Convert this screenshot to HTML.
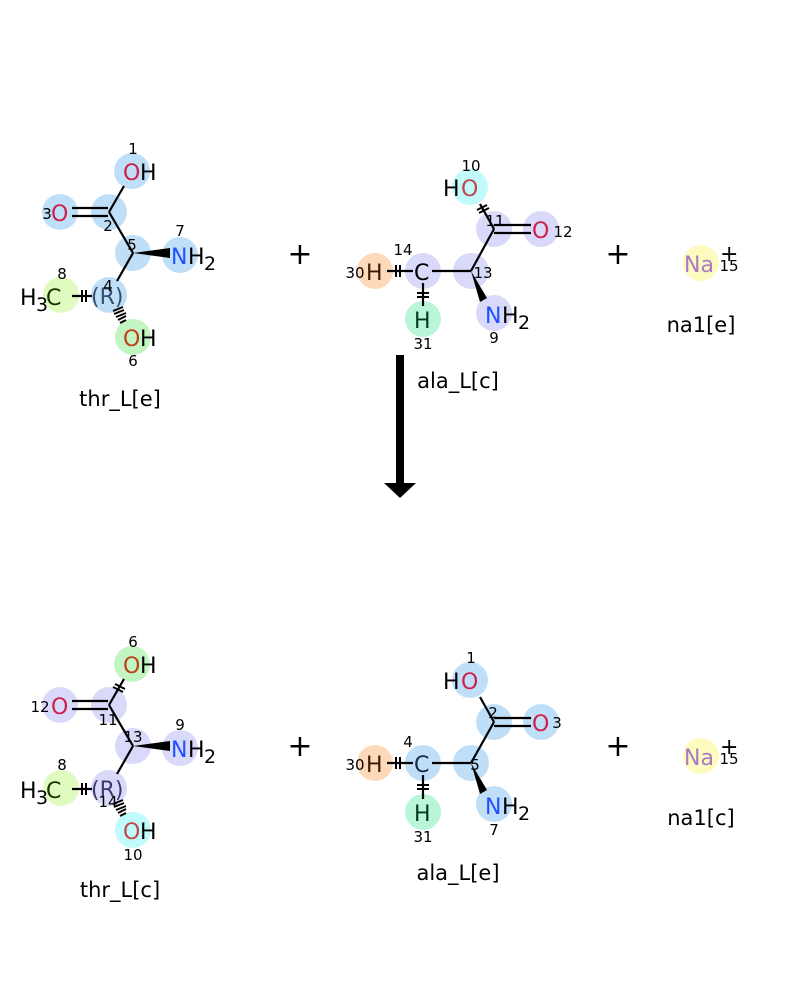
<!DOCTYPE html>
<html><head><meta charset="utf-8"><style>
html,body{margin:0;padding:0;background:#fff;}
svg{display:block;font-family:"DejaVu Sans","Liberation Sans",sans-serif;}
.a{font-size:22px;}
.s{font-size:19px;}
.i{font-size:15px;fill:#000;text-anchor:middle;}
.l{font-size:21px;fill:#000;text-anchor:middle;}
.b{stroke:#000;stroke-width:2.2;fill:none;}
</style></head><body>
<svg width="800" height="1000" viewBox="0 0 800 1000" xmlns="http://www.w3.org/2000/svg">
<rect width="800" height="1000" fill="#fff"/>

<!-- thr_L[e] top -->
<g>
<circle cx="132" cy="171" r="18" fill="#bfdff9"/>
<circle cx="60" cy="212" r="18" fill="#bfdff9"/>
<circle cx="109" cy="212" r="18" fill="#bfdff9"/>
<circle cx="133" cy="253" r="18" fill="#bfdff9"/>
<circle cx="180" cy="255" r="18" fill="#bfdff9"/>
<circle cx="61" cy="295" r="18" fill="#e0fbc0"/>
<circle cx="109" cy="295" r="18" fill="#bfdff9"/>
<circle cx="133" cy="337" r="18" fill="#c2f5c2"/>
<line class="b" x1="109" y1="212" x2="124" y2="186"/>
<line class="b" x1="72" y1="208" x2="108" y2="208"/>
<line class="b" x1="72" y1="216" x2="108" y2="216"/>
<line class="b" x1="109" y1="212" x2="133" y2="253"/>
<polygon points="133,253 170,248 170,258" fill="#000"/>
<line class="b" x1="133" y1="253" x2="117" y2="281"/>
<line class="b" x1="72" y1="296" x2="92" y2="296"/>
<g stroke="#000" stroke-width="2"><line x1="82" y1="290" x2="82" y2="302"/><line x1="86" y1="290" x2="86" y2="302"/>
<line x1="113" y1="311" x2="123" y2="307"/><line x1="114" y1="314" x2="124" y2="310"/><line x1="116" y1="317" x2="126" y2="313"/><line x1="118" y1="320" x2="126" y2="316"/><line x1="120" y1="323" x2="126" y2="320"/></g>
<text class="a" x="123" y="180" fill="#d0204a">O</text><text class="a" x="140" y="180">H</text>
<text class="a" x="51" y="221" fill="#d0204a">O</text>
<text class="a" x="171" y="264" fill="#2050ff">N</text><text class="a" x="188" y="264">H</text><text class="s" x="204" y="270">2</text>
<text class="a" x="20" y="305">H</text><text class="s" x="36" y="311">3</text><text class="a" x="46" y="305" fill="#1a3300">C</text>
<text class="a" x="91" y="304" fill="#33506e">(R)</text>
<text class="a" x="123" y="346" fill="#c0401b">O</text><text class="a" x="140" y="346">H</text>
<text class="i" x="133" y="154">1</text><text class="i" x="47" y="219">3</text><text class="i" x="108" y="231">2</text>
<text class="i" x="132" y="250">5</text><text class="i" x="180" y="236">7</text><text class="i" x="62" y="279">8</text>
<text class="i" x="108" y="291">4</text><text class="i" x="133" y="366">6</text>
<text class="l" x="120" y="406">thr_L[e]</text>
</g>

<!-- ala_L[c] top -->
<g>
<circle cx="470" cy="187" r="18" fill="#c0fafa"/>
<circle cx="494" cy="229" r="18" fill="#d9d9f9"/>
<circle cx="541" cy="229" r="18" fill="#d9d9f9"/>
<circle cx="471" cy="271" r="18" fill="#d9d9f9"/>
<circle cx="423" cy="271" r="18" fill="#d9d9f9"/>
<circle cx="375" cy="271" r="18" fill="#fdd9b9"/>
<circle cx="423" cy="319" r="18" fill="#b9f6d9"/>
<circle cx="494" cy="313" r="18" fill="#d9d9f9"/>
<line class="b" x1="494" y1="229" x2="480" y2="204"/>
<line class="b" x1="494" y1="225" x2="531" y2="225"/>
<line class="b" x1="494" y1="233" x2="531" y2="233"/>
<line class="b" x1="494" y1="229" x2="471" y2="271"/>
<line class="b" x1="471" y1="271" x2="432" y2="271"/>
<line class="b" x1="413" y1="271" x2="387" y2="271"/>
<line class="b" x1="423" y1="283" x2="423" y2="306"/>
<polygon points="471,271 487,298 480,302" fill="#000"/>
<g stroke="#000" stroke-width="2"><line x1="396" y1="265" x2="396" y2="277"/><line x1="400" y1="265" x2="400" y2="277"/>
<line x1="417" y1="293" x2="429" y2="293"/><line x1="417" y1="297" x2="429" y2="297"/>
<line x1="477" y1="210" x2="487" y2="205"/><line x1="479" y1="213" x2="489" y2="208"/></g>
<text class="a" x="443" y="196">H</text><text class="a" x="461" y="196" fill="#c04848">O</text>
<text class="a" x="532" y="238" fill="#d0204a">O</text>
<text class="a" x="414" y="280" fill="#000">C</text>
<text class="a" x="366" y="280" fill="#3a1a00">H</text>
<text class="a" x="414" y="328" fill="#003a1a">H</text>
<text class="a" x="485" y="323" fill="#2050ff">N</text><text class="a" x="502" y="323">H</text><text class="s" x="518" y="329">2</text>
<text class="i" x="471" y="171">10</text><text class="i" x="495" y="226">11</text><text class="i" x="563" y="237">12</text>
<text class="i" x="483" y="278">13</text><text class="i" x="403" y="255">14</text><text class="i" x="355" y="278">30</text>
<text class="i" x="423" y="349">31</text><text class="i" x="494" y="343">9</text>
<text class="l" x="458" y="388">ala_L[c]</text>
</g>

<!-- Na top -->
<circle cx="701" cy="263" r="18" fill="#fdfbc0"/>
<text class="a" x="684" y="272" fill="#ab7ac0">Na</text>
<text class="a" x="720" y="261">+</text>
<text class="i" x="729" y="271">15</text>
<text class="l" x="701" y="332">na1[e]</text>

<text x="300" y="264" font-size="30" text-anchor="middle">+</text>
<text x="618" y="264" font-size="30" text-anchor="middle">+</text>

<!-- arrow -->
<rect x="396" y="355" width="8" height="130" fill="#000"/>
<polygon points="384,483 416,483 400,498" fill="#000"/>

<!-- thr_L[c] bottom -->
<g transform="translate(0,493)">
<circle cx="132" cy="171" r="18" fill="#c2f5c2"/>
<circle cx="60" cy="212" r="18" fill="#d9d9f9"/>
<circle cx="109" cy="212" r="18" fill="#d9d9f9"/>
<circle cx="133" cy="253" r="18" fill="#d9d9f9"/>
<circle cx="180" cy="255" r="18" fill="#d9d9f9"/>
<circle cx="61" cy="295" r="18" fill="#e0fbc0"/>
<circle cx="109" cy="295" r="18" fill="#d9d9f9"/>
<circle cx="133" cy="337" r="18" fill="#c0fafa"/>
<line class="b" x1="109" y1="212" x2="124" y2="186"/>
<g stroke="#000" stroke-width="2"><line x1="113" y1="194" x2="123" y2="199"/><line x1="115" y1="191" x2="125" y2="196"/></g>
<line class="b" x1="72" y1="208" x2="108" y2="208"/>
<line class="b" x1="72" y1="216" x2="108" y2="216"/>
<line class="b" x1="109" y1="212" x2="133" y2="253"/>
<polygon points="133,253 170,248 170,258" fill="#000"/>
<line class="b" x1="133" y1="253" x2="117" y2="281"/>
<line class="b" x1="72" y1="296" x2="92" y2="296"/>
<g stroke="#000" stroke-width="2"><line x1="82" y1="290" x2="82" y2="302"/><line x1="86" y1="290" x2="86" y2="302"/>
<line x1="113" y1="311" x2="123" y2="307"/><line x1="114" y1="314" x2="124" y2="310"/><line x1="116" y1="317" x2="126" y2="313"/><line x1="118" y1="320" x2="126" y2="316"/><line x1="120" y1="323" x2="126" y2="320"/></g>
<text class="a" x="123" y="180" fill="#c0401b">O</text><text class="a" x="140" y="180">H</text>
<text class="a" x="51" y="221" fill="#d0204a">O</text>
<text class="a" x="171" y="264" fill="#2050ff">N</text><text class="a" x="188" y="264">H</text><text class="s" x="204" y="270">2</text>
<text class="a" x="20" y="305">H</text><text class="s" x="36" y="311">3</text><text class="a" x="46" y="305" fill="#1a3300">C</text>
<text class="a" x="91" y="304" fill="#3a3a6e">(R)</text>
<text class="a" x="123" y="346" fill="#c04848">O</text><text class="a" x="140" y="346">H</text>
<text class="i" x="133" y="154">6</text><text class="i" x="40" y="219">12</text><text class="i" x="108" y="232">11</text>
<text class="i" x="133" y="249">13</text><text class="i" x="180" y="237">9</text><text class="i" x="62" y="277">8</text>
<text class="i" x="108" y="314">14</text><text class="i" x="133" y="367">10</text>
<text class="l" x="120" y="404">thr_L[c]</text>
</g>

<!-- ala_L[e] bottom -->
<g transform="translate(0,492)">
<circle cx="470" cy="188" r="18" fill="#bfdff9"/>
<circle cx="494" cy="230" r="18" fill="#bfdff9"/>
<circle cx="541" cy="230" r="18" fill="#bfdff9"/>
<circle cx="471" cy="271" r="18" fill="#bfdff9"/>
<circle cx="423" cy="271" r="18" fill="#bfdff9"/>
<circle cx="375" cy="271" r="18" fill="#fdd9b9"/>
<circle cx="423" cy="320" r="18" fill="#b9f6d9"/>
<circle cx="494" cy="312" r="18" fill="#bfdff9"/>
<line class="b" x1="494" y1="230" x2="480" y2="205"/>
<line class="b" x1="494" y1="226" x2="531" y2="226"/>
<line class="b" x1="494" y1="234" x2="531" y2="234"/>
<line class="b" x1="494" y1="230" x2="471" y2="271"/>
<line class="b" x1="471" y1="271" x2="432" y2="271"/>
<line class="b" x1="413" y1="271" x2="387" y2="271"/>
<line class="b" x1="423" y1="283" x2="423" y2="307"/>
<polygon points="471,271 487,298 480,302" fill="#000"/>
<g stroke="#000" stroke-width="2"><line x1="396" y1="265" x2="396" y2="277"/><line x1="400" y1="265" x2="400" y2="277"/>
<line x1="417" y1="293" x2="429" y2="293"/><line x1="417" y1="297" x2="429" y2="297"/></g>
<text class="a" x="443" y="197">H</text><text class="a" x="461" y="197" fill="#d0204a">O</text>
<text class="a" x="532" y="239" fill="#d0204a">O</text>
<text class="a" x="414" y="280" fill="#1a2a4a">C</text>
<text class="a" x="366" y="280" fill="#3a1a00">H</text>
<text class="a" x="414" y="329" fill="#003a1a">H</text>
<text class="a" x="485" y="322" fill="#2050ff">N</text><text class="a" x="502" y="322">H</text><text class="s" x="518" y="328">2</text>
<text class="i" x="471" y="171">1</text><text class="i" x="493" y="226">2</text><text class="i" x="557" y="236">3</text>
<text class="i" x="475" y="278">5</text><text class="i" x="408" y="255">4</text><text class="i" x="355" y="278">30</text>
<text class="i" x="423" y="350">31</text><text class="i" x="494" y="343">7</text>
<text class="l" x="458" y="388">ala_L[e]</text>
</g>

<!-- Na bottom -->
<circle cx="701" cy="756" r="18" fill="#fdfbc0"/>
<text class="a" x="684" y="765" fill="#ab7ac0">Na</text>
<text class="a" x="720" y="754">+</text>
<text class="i" x="729" y="764">15</text>
<text class="l" x="701" y="825">na1[c]</text>

<text x="300" y="756" font-size="30" text-anchor="middle">+</text>
<text x="618" y="756" font-size="30" text-anchor="middle">+</text>
</svg>
</body></html>
